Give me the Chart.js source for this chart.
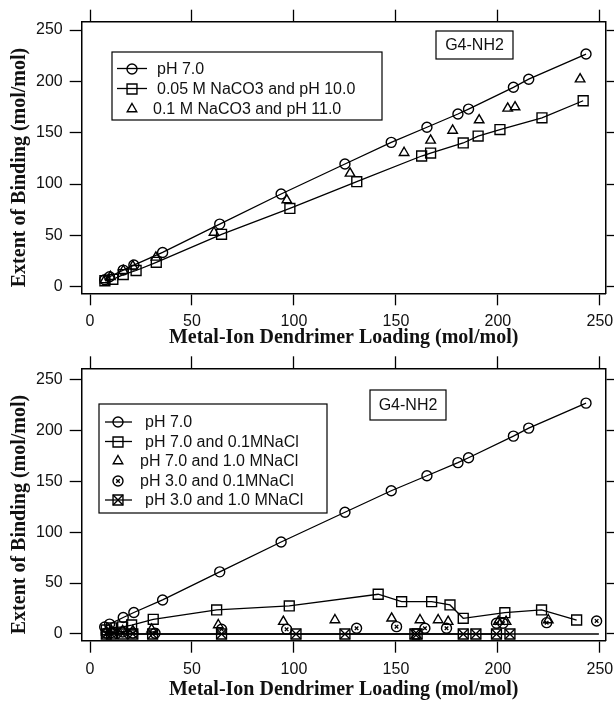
<!DOCTYPE html>
<html>
<head>
<meta charset="utf-8">
<script src="https://cdn.jsdelivr.net/npm/chart.js@4/dist/chart.umd.min.js"></script>
<style>
  html, body { margin: 0; padding: 0; background: #fff; }
  #wrap { position: relative; width: 614px; height: 702px; }
  .panel { position: absolute; left: 0; width: 614px; }
</style>
</head>
<body>
<div id="wrap">
  <div class="panel" style="top:0;height:350px"><canvas id="topChart" width="614" height="350"></canvas></div>
  <div class="panel" style="top:350px;height:352px"><canvas id="bottomChart" width="614" height="352"></canvas></div>
</div>
<script>
// axis ticks
const xTicks = [0, 50, 100, 150, 200, 250];
const yTicks = [0, 50, 100, 150, 200, 250];

// pH 7.0 (same series in both panels)
const ph7X = [7.2, 9.6, 16.3, 21.5, 35.6, 63.6, 93.7, 125, 147.7, 165.2, 180.4, 185.6, 207.6, 215.1, 243.2];
const ph7Y = [6.8, 9.7, 16.2, 21.1, 33.4, 61, 90.3, 119.5, 140.6, 155.3, 168.2, 173, 194.2, 202.1, 226.6];

// top panel
const naco3pH10X = [7.3, 11.2, 16.3, 22.6, 32.5, 64.5, 98, 130.8, 162.6, 167, 183, 190.3, 201, 221.6, 241.8];
const naco3pH10Y = [5.8, 7.2, 11.8, 15.8, 23.8, 51, 76.3, 102.3, 127.3, 130.2, 140, 146.7, 153, 164.5, 181.1];
const naco3pH11X = [7.3, 10, 16.3, 21, 32.3, 60.8, 96.5, 127.5, 154, 167, 177.8, 190.8, 204.8, 208.4, 240.3];
const naco3pH11Y = [6.5, 9.7, 15.6, 20, 28.6, 52.8, 84.4, 110.4, 130.5, 142.5, 152.2, 162.3, 173.7, 175, 202.2];

// bottom panel
const nacl01X = [8, 10.5, 16, 20.4, 31, 62.1, 97.7, 141.3, 152.8, 167.5, 176.5, 183, 203.4, 221.4, 238.6];
const nacl01Y = [4, 6, 7, 8.8, 14.4, 23.6, 27.5, 39, 31.7, 31.7, 28.5, 15.4, 20.9, 23.6, 13.7];
const nacl1X = [8, 10.5, 16, 21, 30.2, 62.9, 94.8, 120.1, 147.9, 161.8, 170.7, 175.6, 200.2, 204, 224.7];
const nacl1Y = [2, 3, 3, 3, 4.6, 8.8, 12.1, 13.7, 15.4, 13.7, 13.7, 12.1, 12.1, 12.1, 13.7];
const ph3nacl01X = [8, 10.5, 16, 21, 31.9, 64.5, 96.4, 130.7, 150.3, 164.2, 174.8, 199.3, 202.5, 223.9, 248.4];
const ph3nacl01Y = [1, 1.5, 2, 1, 0.7, 4.6, 4.6, 5.6, 7.2, 5.6, 5.6, 10.5, 10.5, 11.1, 12.8];
const ph3nacl1X = [8, 10.5, 16, 21, 30.7, 64.5, 101, 125, 159.3, 160.4, 183, 189.2, 199.3, 205.9];
const ph3nacl1Y = [0, 0, 0, 0, 0, 0, 0, 0, 0, 0, 0, 0, 0, 0];
const zeroLineX = [7.7, 249.5];
const zeroLineY = [0, 0];

const pts = (xs, ys) => xs.map((x, i) => ({ x: x, y: ys[i] }));

const tickFont = { family: "'Liberation Sans', Arial, sans-serif", size: 16 };
const titleFont = { family: "'Liberation Serif', 'Times New Roman', serif", size: 20, weight: "bold" };

function series(label, xs, ys, style, radius, line) {
  return {
    label: label,
    data: pts(xs, ys),
    showLine: line,
    borderColor: "#000",
    borderWidth: 1.3,
    backgroundColor: "rgba(0,0,0,0)",
    pointStyle: style,
    pointRadius: radius,
    pointHoverRadius: radius,
    pointBorderColor: "#000",
    pointBackgroundColor: "rgba(0,0,0,0)",
    pointBorderWidth: 1.4
  };
}

// small x inside circles, diagonals inside squares
function inner(ctx, kind, x, y, r) {
  ctx.beginPath();
  if (kind === "x") {
    ctx.moveTo(x - 1.8, y - 1.8); ctx.lineTo(x + 1.8, y + 1.8);
    ctx.moveTo(x + 1.8, y - 1.8); ctx.lineTo(x - 1.8, y + 1.8);
  } else {
    const s = r / Math.SQRT2;
    ctx.moveTo(x - s, y - s); ctx.lineTo(x + s, y + s);
    ctx.moveTo(x + s, y - s); ctx.lineTo(x - s, y + s);
  }
  ctx.stroke();
}

const innerPlugin = {
  id: "innerMarks",
  afterDatasetsDraw(chart) {
    const ctx = chart.ctx;
    ctx.save();
    ctx.strokeStyle = "#000";
    ctx.lineWidth = 1.3;
    chart.data.datasets.forEach((ds, i) => {
      if (!ds.inner) return;
      chart.getDatasetMeta(i).data.forEach(p => inner(ctx, ds.inner, p.x, p.y, ds.pointRadius));
    });
    ctx.restore();
  }
};

// legend box, G4-NH2 tag and y title drawn by hand
const keyPlugin = {
  id: "keyBox",
  afterDraw(chart, args, o) {
    const ctx = chart.ctx;
    const a = chart.chartArea;
    ctx.save();
    ctx.strokeStyle = "#000";
    ctx.fillStyle = "#111";

    // y axis title
    ctx.save();
    ctx.translate(o.yTitleX, (a.top + a.bottom) / 2 + o.yTitleDy);
    ctx.rotate(-Math.PI / 2);
    ctx.font = "bold 20px 'Liberation Serif', 'Times New Roman', serif";
    ctx.textAlign = "center";
    ctx.textBaseline = "middle";
    ctx.fillText("Extent of Binding (mol/mol)", 0, 0);
    ctx.restore();

    ctx.lineWidth = 1.2;
    ctx.font = "16px 'Liberation Sans', Arial, sans-serif";
    const t = o.tag;
    ctx.strokeRect(a.left + t.x, a.top + t.y, t.w, t.h);
    ctx.textAlign = "center";
    ctx.textBaseline = "middle";
    ctx.fillText("G4-NH2", a.left + t.x + t.w / 2, a.top + t.y + t.h / 2 + 1);

    const L = o.legend;
    const lx = a.left + L.x, ly = a.top + L.y;
    ctx.strokeRect(lx, ly, L.w, L.h);
    ctx.textAlign = "left";
    let k = 0;
    chart.data.datasets.forEach(ds => {
      if (ds.noKey) return;
      const cy = ly + L.first + k * L.step;
      const mx = Math.round(lx + L.mark), my = Math.round(cy);
      if (ds.showLine) {
        ctx.lineWidth = 1.3;
        ctx.beginPath();
        ctx.moveTo(lx + L.line0, cy);
        ctx.lineTo(lx + L.line1, cy);
        ctx.stroke();
      }
      ctx.fillStyle = "rgba(0,0,0,0)";
      ctx.lineWidth = 1.4;
      Chart.helpers.drawPoint(ctx, {
        pointStyle: ds.pointStyle, radius: ds.pointRadius, borderWidth: 1.4, rotation: 0
      }, mx, my);
      if (ds.inner) inner(ctx, ds.inner, mx, my, ds.pointRadius);
      ctx.fillStyle = "#111";
      ctx.fillText(ds.label, lx + L.text - (ds.showLine ? 0 : L.shift), cy + 1);
      k++;
    });
    ctx.restore();
  }
};

function scales(h) {
  const setTicks = vals => s => { s.ticks = vals.map(v => ({ value: v })); };
  const grid = { drawOnChartArea: false, drawTicks: true, tickLength: 12, tickWidth: 1.3, tickColor: "#000" };
  const border = { display: true, color: "#000", width: 1.5 };
  return {
    x: {
      type: "linear", position: "bottom", min: -4.07, max: 252.8,
      afterBuildTicks: setTicks(xTicks),
      grid: grid, border: border,
      ticks: { font: tickFont, color: "#111", padding: 7, maxRotation: 0 },
      title: { display: true, text: "Metal-Ion Dendrimer Loading (mol/mol)", font: titleFont, color: "#111", padding: { top: 0, bottom: h.titleBottom } },
      afterFit(s) { s.height = h.bottom; s.paddingLeft = 0; s.paddingRight = 0; }
    },
    x2: {
      type: "linear", position: "top", min: -4.07, max: 252.8,
      afterBuildTicks: setTicks(xTicks),
      grid: grid, border: border,
      ticks: { display: false },
      afterFit(s) { s.height = h.top; s.paddingLeft = 0; s.paddingRight = 0; }
    },
    y: {
      type: "linear", position: "left", min: h.yMin, max: h.yMax,
      afterBuildTicks: setTicks(yTicks),
      grid: grid, border: border,
      ticks: { font: tickFont, color: "#111", padding: 7 },
      afterFit(s) { s.width = 81.7; s.paddingTop = 0; s.paddingBottom = 0; }
    },
    y2: {
      type: "linear", position: "right", min: h.yMin, max: h.yMax,
      afterBuildTicks: setTicks(yTicks),
      grid: grid, border: border,
      ticks: { display: false },
      afterFit(s) { s.width = 8.3; s.paddingTop = 0; s.paddingBottom = 0; }
    }
  };
}

const baseOptions = (h, key) => ({
  responsive: false,
  animation: false,
  layout: { padding: 0 },
  scales: scales(h),
  plugins: { legend: { display: false }, tooltip: { enabled: false }, keyBox: key }
});

new Chart("topChart", {
  type: "scatter",
  data: {
    datasets: [
      series("pH 7.0", ph7X, ph7Y, "circle", 5, true),
      series("0.05 M NaCO3 and pH 10.0", naco3pH10X, naco3pH10Y, "rect", 7, true),
      series("0.1 M NaCO3 and pH 11.0", naco3pH11X, naco3pH11Y, "triangle", 5.5, false)
    ]
  },
  options: baseOptions(
    { top: 21.7, bottom: 56.7, yMin: -6.4, yMax: 258.1, titleBottom: 0 },
    {
      yTitleX: 20, yTitleDy: 10,
      tag: { x: 354.3, y: 9.3, w: 77, h: 28 },
      legend: { x: 30.3, y: 30.3, w: 270, h: 68, first: 16.5, step: 20, line0: 5, line1: 35, mark: 20, text: 45, shift: 4 }
    }
  ),
  plugins: [keyPlugin]
});

const ph3Low = series("pH 3.0 and 0.1MNaCl", ph3nacl01X, ph3nacl01Y, "circle", 5, false);
ph3Low.inner = "x";
const ph3High = series("pH 3.0 and 1.0 MNaCl", ph3nacl1X, ph3nacl1Y, "rect", 7, true);
ph3High.inner = "diag";
const zero = series("zero", zeroLineX, zeroLineY, "circle", 0, true);
zero.noKey = true;

new Chart("bottomChart", {
  type: "scatter",
  data: {
    datasets: [
      series("pH 7.0", ph7X, ph7Y, "circle", 5, true),
      series("pH 7.0 and 0.1MNaCl", nacl01X, nacl01Y, "rect", 7, true),
      series("pH 7.0 and 1.0 MNaCl", nacl1X, nacl1Y, "triangle", 5.5, false),
      ph3Low,
      ph3High,
      zero
    ]
  },
  options: baseOptions(
    { top: 18.3, bottom: 61.3, yMin: -6.6, yMax: 260.8, titleBottom: 0.6 },
    {
      yTitleX: 20, yTitleDy: 10,
      tag: { x: 288.3, y: 21.7, w: 76, h: 30 },
      legend: { x: 17.3, y: 35.7, w: 228, h: 109, first: 18, step: 19.5, line0: 6, line1: 33, mark: 19, text: 46, shift: 5 }
    }
  ),
  plugins: [innerPlugin, keyPlugin]
});
</script>
</body>
</html>
